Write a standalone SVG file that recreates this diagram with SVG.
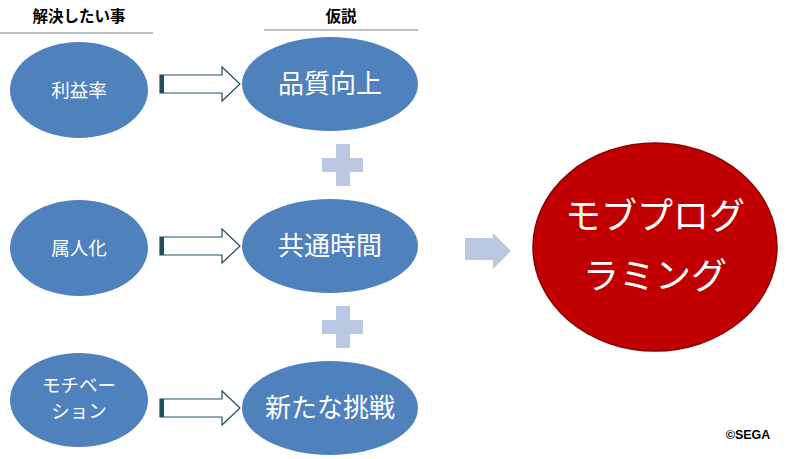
<svg xmlns="http://www.w3.org/2000/svg" width="800" height="459" viewBox="0 0 800 459">
<defs>
<style>
.hdr{font-family:"Noto Sans CJK JP","Noto Sans CJK SC",sans-serif;font-weight:bold;font-size:15.5px;fill:#000;text-anchor:middle}
.sm{fill:#4f81bd}
.smt{font-family:"Noto Sans CJK JP","Noto Sans CJK SC",sans-serif;font-size:18.5px;fill:#fff;text-anchor:middle}
.lgt{font-family:"Noto Sans CJK JP","Noto Sans CJK SC",sans-serif;font-size:26px;fill:#fff;text-anchor:middle}
.rt{font-family:"Noto Sans CJK JP","Noto Sans CJK SC",sans-serif;font-size:36px;fill:#fff;text-anchor:middle}
.oa{fill:#fff;stroke:#1f4e5f;stroke-width:1.2}
.plus{fill:#b9c7e0}
</style>
<symbol id="oarrow" overflow="visible">
<path class="oa" d="M0,-9 H62 V-17 L80,0 L62,17 V9 H0 Z"/>
<rect x="0" y="-9" width="4" height="18" fill="#1f4e5f"/>
</symbol>
<symbol id="plus" overflow="visible">
<path class="plus" d="M-7,-21 H7 V-7 H20 V7 H7 V21 H-7 V7 H-21 V-7 H-7 Z"/>
</symbol>
</defs>
<rect width="800" height="459" fill="#fff"/>
<g id="headers">
<text class="hdr" x="79" y="22">解決したい事</text>
<line x1="0" y1="33" x2="153" y2="33" stroke="#808080" stroke-width="1.2"/>
<text class="hdr" x="341" y="22">仮説</text>
<line x1="264" y1="30" x2="418" y2="30" stroke="#808080" stroke-width="1.2"/>
</g>
<g id="node-rieki"><ellipse class="sm" cx="79" cy="90" rx="69" ry="48"/><text class="smt" x="79" y="97">利益率</text></g>
<g id="node-zokujin"><ellipse class="sm" cx="79" cy="248" rx="69" ry="48"/><text class="smt" x="79" y="255">属人化</text></g>
<g id="node-motivation"><ellipse class="sm" cx="79" cy="400" rx="69" ry="47"/><text class="smt" x="79" y="392">モチベー</text><text class="smt" x="79" y="418">ション</text></g>
<g id="node-hinshitsu"><ellipse class="sm" cx="330" cy="84" rx="88" ry="47"/><text class="lgt" x="330" y="93">品質向上</text></g>
<g id="node-kyotsu"><ellipse class="sm" cx="330" cy="246" rx="88" ry="47"/><text class="lgt" x="330" y="255">共通時間</text></g>
<g id="node-chosen"><ellipse class="sm" cx="330" cy="408" rx="88" ry="47"/><text class="lgt" x="330" y="417">新たな挑戦</text></g>
<g id="node-mobpro"><ellipse cx="655" cy="247" rx="122" ry="104" fill="#c00000" stroke="#8b0000" stroke-width="1.5"/><text class="rt" x="655" y="229">モブプログ</text><text class="rt" x="655" y="289">ラミング</text></g>
<g id="connectors">
<use href="#oarrow" x="160" y="84"/>
<use href="#oarrow" x="160" y="246"/>
<use href="#oarrow" x="160" y="408"/>
<use href="#plus" x="343" y="165"/>
<use href="#plus" x="343" y="327"/>
<path class="plus" d="M465,238 H493 V233 L511,251 L493,269 V260 H465 Z"/>
</g>
<text x="748" y="439" font-family="Liberation Sans,Arial,sans-serif" font-weight="bold" font-size="12.5" text-anchor="middle">©SEGA</text>
</svg>
